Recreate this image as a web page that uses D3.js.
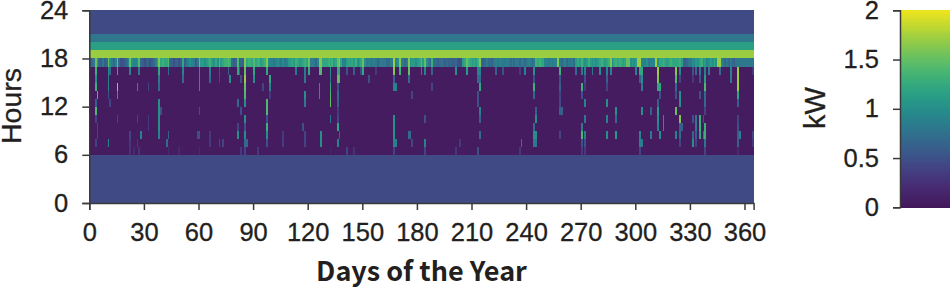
<!DOCTYPE html>
<html><head><meta charset="utf-8">
<script src="https://cdnjs.cloudflare.com/ajax/libs/d3/7.8.5/d3.min.js"></script>
<style>
html,body{margin:0;padding:0;background:#fff;overflow:hidden}
svg{display:block}
text{font-family:"Liberation Sans",Arial,sans-serif;fill:#231f20;stroke:#231f20;stroke-width:.3px}
.axis path,.axis line{stroke:#3a3a3a;stroke-width:1.5}
</style></head><body>
<svg id="c" width="950" height="289"></svg>
<script>
// Base level for each hour of the day, kW (hour 0 first)
const hourlyBase=[.45,.45,.45,.45,.45,.45,.05,.05,.05,.05,.05,.05,.05,.05,.05,.05,.05,.8,1.7,1.14,.8,.45,.45,.45];
// Hour 17 (17:00-18:00) per-day values, kW
const hour17=[
.5,.7,.8,1.5,1.1,.7,.6,.8,.6,.7,
1.5,1.0,.8,.7,.9,1.5,.7,.5,.5,.6,
.7,.9,1.5,1.0,.9,.9,1.0,1.4,.7,.6,
.5,.6,.7,.5,.6,.7,.9,1.1,1.6,1.2,
1.3,1.2,1.2,1.4,.7,.6,.5,.6,.7,.5,
.6,1.2,.6,.8,.9,1.0,.9,.8,.6,.8,
1.5,1.1,1.1,1.0,1.1,1.2,1.3,1.1,1.0,1.2,
1.0,1.4,1.1,1.2,1.3,1.3,1.4,1.3,.7,.6,
.7,1.4,.6,.7,.6,1.6,1.2,1.3,1.3,1.2,
1.4,1.2,1.3,1.3,1.1,1.2,1.3,1.6,1.0,.9,
.9,.8,.9,1.0,.9,.8,1.0,.8,.9,1.1,
1.1,1.2,1.1,1.3,1.2,1.1,1.1,1.2,1.3,1.2,
1.5,.8,.9,.8,.7,.9,1.6,1.6,1.2,1.2,
1.2,1.3,1.2,1.3,1.1,1.2,1.5,1.6,1.2,.9,
.9,1.1,1.2,1.1,1.2,1.1,1.3,1.0,1.1,1.2,
1.5,1.0,.8,.9,.8,.8,.9,.8,.7,.8,
.9,.8,.8,.7,.7,.9,.8,1.7,.9,1.0,
1.6,.9,.8,.7,.8,1.6,1.0,1.1,1.1,1.0,
1.1,1.2,1.4,1.1,1.5,1.0,.8,.7,1.3,.7,
.7,.6,.7,.8,.7,.6,.7,.6,.7,.6,
.6,.7,.5,.5,.5,1.1,1.2,1.5,1.3,1.2,
1.1,1.2,1.1,1.3,1.6,.7,.6,.7,.8,.7,
.7,.6,.8,.9,.8,.9,.9,.8,.8,.9,
.8,.7,.8,.7,.8,.8,.7,.8,.8,.7,
.8,.9,.8,.7,.8,1.3,1.2,1.3,1.2,1.2,
.9,.9,.8,.9,.8,.9,.9,1.6,.8,.7,
.8,.9,.7,.8,.8,.9,.7,1.1,1.2,1.1,
1.3,1.1,1.0,1.1,1.3,1.1,1.0,1.1,1.0,1.1,
1.2,1.3,1.2,1.1,1.2,1.3,1.6,1.0,1.2,1.3,
1.2,1.3,1.2,1.1,1.2,1.5,1.5,1.0,1.1,1.0,
1.1,1.7,1.7,.9,.9,.9,1.0,.8,.9,.9,
.9,1.7,1.0,1.2,1.2,1.3,1.2,1.1,1.2,1.3,
1.2,1.2,1.2,1.2,1.3,1.1,.7,.6,.7,.8,
.8,1.0,.9,1.1,1.0,1.2,1.3,1.0,1.1,.9,
1.0,1.1,1.0,1.2,1.0,1.7,1.7,.9,.8,.7,
.8,.7,.8,.7,.6];
// Sparse readings [day, kW] for each daytime hour
const hour16=[[3,1.3],[10,.9],[11,.7],[15,1.2],[22,.9],[27,.8],[38,1.2],[43,.7],[51,.9],[60,1],[66,.8],[71,.5],[76,.6],[81,1.2],[82,.6],[85,1.5],[90,1.2],[97,1.2],[113,.8],[118,.8],[120,1.2],[126,1.4],[127,1.4],[132,1],[136,1.2],[137,1.2],[141,.5],[145,.6],[149,.4],[150,1.2],[157,.3],[167,1.6],[170,1.3],[175,1.5],[182,.9],[184,.9],[188,.6],[201,1],[207,1.1],[213,.9],[214,.9],[223,.6],[227,.5],[236,.3],[239,.9],[244,1],[258,1.3],[267,.7],[270,.8],[272,.9],[276,.8],[280,1],[284,.9],[286,.9],[300,.9],[302,1.2],[303,1.2],[312,1.7],[322,1.6],[324,.9],[331,.5],[333,.7],[335,.8],[338,.9],[340,.8],[346,.7],[352,.9],[356,1.7],[364,.3]];
const hour15=[[3,1],[10,.9],[38,.8],[51,.7],[60,1],[66,.7],[71,.4],[77,1],[83,.5],[85,1.7],[90,1],[99,1.2],[118,.8],[132,.8],[136,1.5],[137,1.4],[153,.5],[167,.6],[175,.7],[213,.7],[214,.7],[244,.5],[258,.5],[272,.5],[284,.6],[302,.6],[303,1],[312,1.6],[322,1.4],[324,.4],[331,.3],[335,.5],[338,1.1],[352,.8],[356,1.7]];
const hour14=[[3,1.3],[10,.9],[15,1.7],[26,1],[32,.4],[38,.7],[60,1],[85,1.5],[95,.4],[99,.9],[126,1],[132,1.2],[136,.5],[167,.9],[168,.9],[188,.4],[214,1.2],[244,1.3],[258,.6],[270,1.3],[272,.3],[284,.4],[303,.8],[312,1.2],[313,1.2],[322,.7],[338,1.4],[356,1.7]];
const hour13=[[4,1.4],[10,.5],[15,1.1],[85,1.4],[99,.3],[118,1],[126,1],[132,1.4],[136,.7],[177,.4],[213,.5],[244,.7],[258,.4],[270,.5],[313,.5],[322,.5],[324,1],[335,.5],[338,.7],[356,1.2]];
const hour12=[[3,.6],[11,.4],[38,1],[81,.7],[85,1],[97,1.4],[118,.8],[132,1.5],[136,.6],[213,.5],[258,.4],[272,.9],[284,1],[312,.6],[324,1],[338,.7],[356,.6]];
const hour11=[[3,1.4],[38,1],[39,.5],[60,.5],[83,.5],[97,1.4],[136,.3],[214,.9],[245,.6],[258,.6],[259,.6],[289,1],[303,1],[308,.6],[312,1.1],[322,1.5],[338,.4]];
const hour10=[[3,.4],[15,.4],[26,.4],[32,.3],[38,1],[85,1],[97,.5],[132,.8],[136,.4],[167,1],[184,.5],[214,.6],[245,1],[272,.8],[284,.9],[289,.7],[312,1],[315,1],[324,1.6],[331,.5],[333,.8],[335,1.3],[337,.5],[356,.4]];
const hour9=[[4,.4],[32,.3],[38,1],[81,.4],[85,.5],[97,1.3],[117,.5],[136,1.2],[167,1],[244,.7],[270,.8],[312,.9],[315,1],[324,.6],[325,.6],[333,.8],[335,1.3],[338,1.3],[356,.5]];
const hour8=[[4,.4],[22,.4],[28,.9],[38,.9],[43,.6],[59,.5],[60,.5],[66,.3],[81,1],[85,1],[97,1],[106,.3],[118,.4],[127,1],[137,.6],[167,1],[175,.7],[176,.7],[214,.7],[244,1],[245,1],[258,.4],[270,1.4],[272,.9],[284,1],[289,1.1],[302,.9],[308,.8],[313,1],[322,.9],[324,.7],[331,.7],[333,.6],[335,1.2],[337,.9],[338,1.3],[356,.6],[357,.9],[364,.4]];
const hour7=[[3,.4],[10,.9],[22,.3],[26,.3],[42,.7],[66,.3],[71,.4],[73,.4],[85,.7],[86,.7],[97,.5],[106,.35],[118,.4],[127,1],[136,.9],[167,.9],[168,.9],[177,.4],[184,.9],[203,.3],[237,.8],[244,.8],[245,.8],[270,.5],[272,.5],[302,.9],[303,.8],[324,.4],[331,1],[333,.4],[338,.8],[356,.6],[364,.3]];
const hour6=[[22,.25],[24,.2],[27,.25],[43,.2],[49,.2],[60,.2],[83,.3],[85,.4],[92,.3],[132,.15],[141,.4],[145,.25],[167,.4],[184,.4],[201,.3],[213,.5],[236,.3],[270,.3],[272,.3],[302,.4],[338,.4],[356,.2]];
const sparseHours={6:hour6,7:hour7,8:hour8,9:hour9,10:hour10,11:hour11,12:hour12,13:hour13,14:hour14,15:hour15,16:hour16};
const dayTicks=[0,30,60,90,120,150,180,210,240,270,300,330,360];
const hourTicks=[0,6,12,18,24];
const kwTicks=[0,.5,1,1.5,2];
const palette=["#43175a","#482f7a","#3e528b","#2f718e","#22908b","#2fab80","#62c064","#a8d03a","#f0e61c"];

const svg=d3.select("#c");
const x=d3.scaleLinear().domain([0,365]).range([89.3,753.6]);
const y=d3.scaleLinear().domain([0,24]).range([203,10.3]);
const cY=d3.scaleLinear().domain([0,2]).range([207.3,10.3]);
const color=d3.scaleSequential(d3.interpolateRgbBasis(palette)).domain([0,2]);

const cells=[];
hourlyBase.forEach((v,h)=>{cells.push({d:0,span:365,h,v});});
hour17.forEach((v,d)=>cells.push({d,span:1,h:17,v}));
Object.entries(sparseHours).forEach(([h,list])=>list.forEach(([d,v])=>cells.push({d,span:1,h:+h,v})));

svg.append("defs").append("filter").attr("id","soft").attr("x",-.01).attr("y",-.01).attr("width",1.02).attr("height",1.02)
  .append("feGaussianBlur").attr("stdDeviation",.45);
svg.append("g").attr("filter","url(#soft)").attr("shape-rendering","crispEdges").selectAll("rect").data(cells).join("rect")
  .attr("x",c=>x(c.d)).attr("width",c=>x(c.d+c.span)-x(c.d))
  .attr("y",c=>y(c.h+1)).attr("height",c=>y(c.h)-y(c.h+1))
  .attr("fill",c=>color(c.v));

const xa=svg.append("g").attr("class","axis").attr("transform","translate(0,203)")
  .call(d3.axisBottom(x).tickValues(dayTicks).tickSizeOuter(0).tickSize(7).tickPadding(13));
const ya=svg.append("g").attr("class","axis").attr("transform","translate(89.3,0)")
  .call(d3.axisLeft(y).tickValues(hourTicks).tickSizeOuter(0).tickSize(7).tickPadding(14));
[xa,ya].forEach(a=>a.selectAll("text").style("font-size","25.5px"));

// colour bar
const stops=d3.range(0,2,.02);
svg.append("g").attr("shape-rendering","crispEdges").selectAll("rect").data(stops).join("rect")
  .attr("x",900).attr("width",50)
  .attr("y",v=>cY(v+.02)).attr("height",v=>cY(v)-cY(v+.02)+.5)
  .attr("fill",v=>color(v));
const ca=svg.append("g").attr("class","axis").attr("transform","translate(900,0)")
  .call(d3.axisLeft(cY).tickValues(kwTicks).tickFormat(d3.format("~g")).tickSizeOuter(0).tickSize(7).tickPadding(14));
ca.selectAll("text").style("font-size","25.5px");

svg.append("text").attr("transform","translate(21,106) rotate(-90)").attr("text-anchor","middle")
  .style("font-size","28.5px").text("Hours");
svg.append("text").attr("transform","translate(825,108) rotate(-90)").attr("text-anchor","middle")
  .style("font-size","29px").text("kW");
svg.append("text").attr("x",421.5).attr("y",281).attr("text-anchor","middle")
  .style("font-family","'Noto Sans CJK SC'").style("font-weight",700).style("stroke-width",0).style("font-size","27px").text("Days of the Year");
</script>
</body></html>
